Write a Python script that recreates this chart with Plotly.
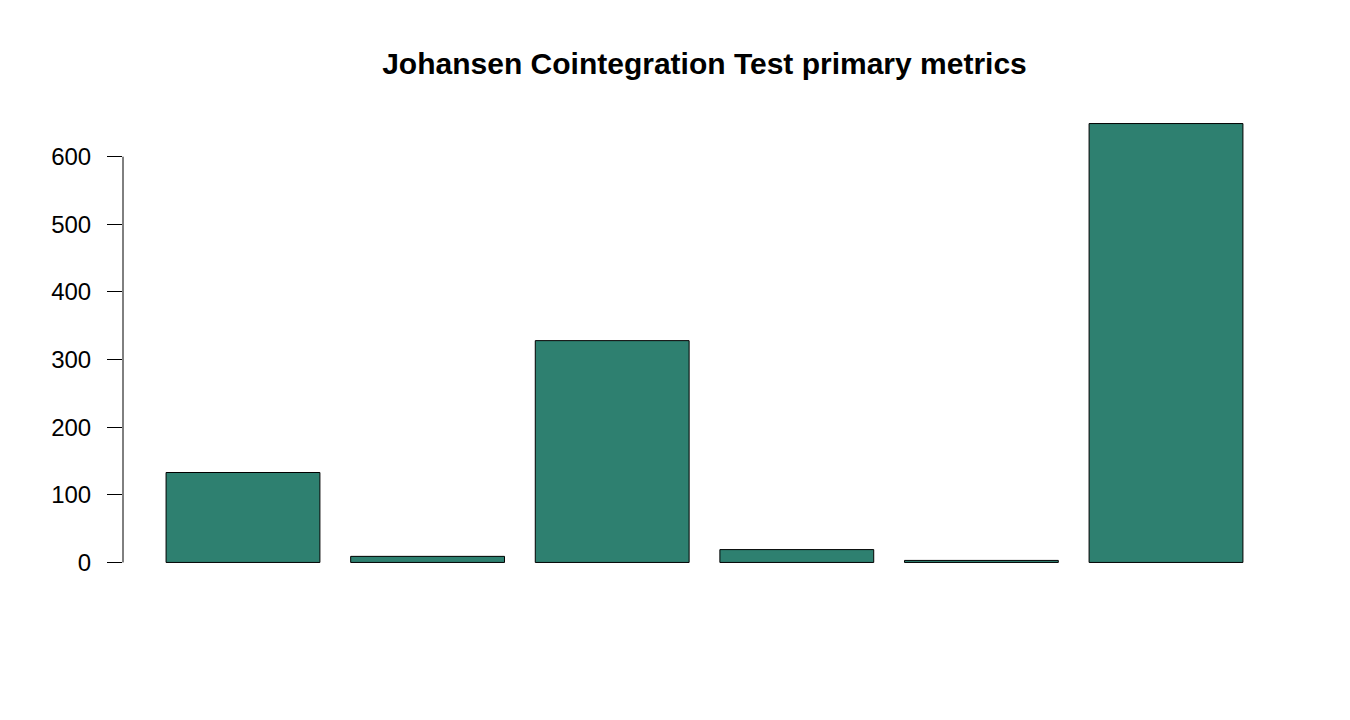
import plotly.graph_objects as go

# Johansen test metrics (bar heights)
metrics = ["m1", "m2", "m3", "m4", "m5", "m6"]
values = [133, 9, 328, 19, 3, 649]
y_ticks = [0, 100, 200, 300, 400, 500, 600]

bar_color = "#2E8070"

fig = go.Figure()
fig.add_trace(go.Bar(x=metrics, y=values, marker=dict(color=bar_color, line=dict(color="black", width=1)),
                     hoverinfo="y"))

# R style axis range: 4% padding on both sides
ymax = max(values)
pad = 0.04 * ymax

# page body adds an 8px offset, margins account for it
fig.update_layout(
    width=1350, height=720,
    paper_bgcolor="white", plot_bgcolor="white",
    margin=dict(l=115, r=72, t=98, b=148),
    bargap=0.2 / 1.2,
    showlegend=False,
    font=dict(family="Liberation Sans, Arial", color="black"),
    title=dict(text="<b>Johansen Cointegration Test primary metrics</b>", x=0.5, xref="paper",
               y=1 - 55 / 720, yanchor="middle", font=dict(size=30, color="black")),
    xaxis=dict(showticklabels=False, showgrid=False, zeroline=False, showline=False, ticks="",
               range=[-0.65, len(metrics) - 0.35]),
    yaxis=dict(range=[-pad, ymax + pad], tickvals=y_ticks, ticks="outside", ticklen=15,
               tickcolor="black", tickwidth=1, showgrid=False, zeroline=False, showline=False,
               tickfont=dict(size=24), ticklabelstandoff=11),
)

# y axis line only spans the tick range, like base R
fig.add_shape(type="line", xref="paper", yref="y", x0=0, x1=0, y0=y_ticks[0], y1=y_ticks[-1],
              line=dict(color="black", width=1))

fig.write_html("out.html")
